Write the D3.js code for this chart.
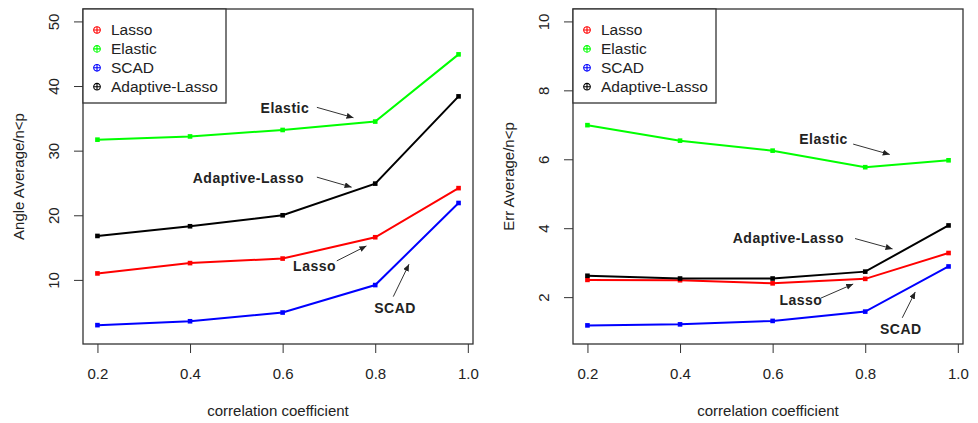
<!DOCTYPE html>
<html>
<head>
<meta charset="utf-8">
<script src="https://cdn.jsdelivr.net/npm/d3@7"></script>
<style>
  body { margin: 0; background: #fff; }
  svg { font-family: "Liberation Sans", Arial, sans-serif; }
  .tick text { font-size: 15px; fill: #222; }
  .tick line { stroke: #333; }
  .axis-title { font-size: 15px; fill: #222; }
  .legend-text { font-size: 15.5px; fill: #222; }
  .note { font-size: 14px; font-weight: bold; fill: #222; letter-spacing: 0.5px; }
</style>
</head>
<body>
<svg id="chart"></svg>
<script>
// values
const rho = [0.2, 0.4, 0.6, 0.8, 0.98]
const methods = ['Lasso', 'Elastic', 'SCAD', 'Adaptive-Lasso']
const colours = ['#ff0000', '#00ff00', '#0000ff', '#000000']

const angleLasso = [11.0, 12.6, 13.3, 16.6, 24.2]
const angleElastic = [31.7, 32.2, 33.2, 34.5, 44.9]
const angleScad = [3.0, 3.6, 4.95, 9.2, 21.9]
const angleAdaptive = [16.8, 18.3, 20.0, 24.9, 38.4]

const errLasso = [2.50, 2.49, 2.40, 2.53, 3.28]
const errElastic = [6.99, 6.54, 6.25, 5.77, 5.97]
const errScad = [1.18, 1.21, 1.31, 1.58, 2.89]
const errAdaptive = [2.62, 2.54, 2.54, 2.74, 4.08]

const xTicks = [0.2, 0.4, 0.6, 0.8, 1.0]
const angleTicks = [10, 20, 30, 40, 50]
const errTicks = [2, 4, 6, 8, 10]

// annotations: [label, text x, text y, arrow from x, y, arrow to x, y] in data units
const angleNotes = [
    ['Elastic', 0.605, 36.6, 0.674, 36.7, 0.753, 35.1],
    ['Adaptive-Lasso', 0.526, 25.8, 0.674, 25.9, 0.749, 24.35],
    ['Lasso', 0.669, 12.06, 0.717, 12.94, 0.781, 15.26],
    ['SCAD', 0.843, 5.71, 0.839, 7.41, 0.873, 12.43]
]
const errNotes = [
    ['Elastic', 0.710, 6.58, 0.774, 6.44, 0.853, 6.14],
    ['Adaptive-Lasso', 0.634, 3.70, 0.778, 3.70, 0.859, 3.40],
    ['Lasso', 0.661, 1.90, 0.704, 1.97, 0.774, 2.38],
    ['SCAD', 0.877, 1.08, 0.880, 1.40, 0.908, 2.15]
]

const width = 978
const height = 423
const plotTop = 9
const plotBottom = 344
const plotWidth = 390

let svg = d3.select('#chart')
    .attr('width', width)
    .attr('height', height)

svg.append('defs').append('marker')
    .attr('id', 'head')
    .attr('markerUnits', 'userSpaceOnUse')
    .attr('markerWidth', 8)
    .attr('markerHeight', 8)
    .attr('refX', 7)
    .attr('refY', 3)
    .attr('orient', 'auto')
    .append('path')
    .attr('d', 'M0,0 L7,3 L0,6 Z')
    .attr('fill', '#222')

// pad a range by 4% each side, like R does
function padded(lo, hi) {
    let d = (hi - lo) * 0.04
    return [lo - d, hi + d]
}

function panel(left, series, yLim, yTicks, yTitle, notes) {
    let x = d3.scaleLinear()
        .domain(padded(0.2, 0.98))
        .range([left, left + plotWidth])
    let y = d3.scaleLinear()
        .domain(padded(yLim[0], yLim[1]))
        .range([plotBottom, plotTop])

    let g = svg.append('g')

    // axes
    let yAxis = g.append('g')
        .attr('transform', `translate(${left},0)`)
        .call(d3.axisLeft(y).tickValues(yTicks).tickSize(9))
    yAxis.select('.domain').remove()
    yAxis.selectAll('.tick text')
        .attr('transform', 'rotate(-90)')
        .attr('x', 0)
        .attr('y', -24)
        .attr('dy', 0)
        .attr('text-anchor', 'middle')

    let xAxis = g.append('g')
        .attr('transform', `translate(0,${plotBottom})`)
        .call(d3.axisBottom(x).tickValues(xTicks).tickSize(9).tickFormat(d3.format('.1f')))
    xAxis.select('.domain').remove()
    xAxis.selectAll('.tick text').attr('y', 24)

    g.append('text')
        .attr('class', 'axis-title')
        .attr('transform', `translate(${left - 64},${(plotTop + plotBottom) / 2}) rotate(-90)`)
        .attr('text-anchor', 'middle')
        .attr('dy', '0.35em')
        .text(yTitle)

    g.append('text')
        .attr('class', 'axis-title')
        .attr('x', left + plotWidth / 2)
        .attr('y', 411)
        .attr('text-anchor', 'middle')
        .attr('dy', '0.35em')
        .text('correlation coefficient')

    // lines + square points
    let line = d3.line()
        .x((d, i) => x(rho[i]))
        .y(d => y(d))

    series.forEach((s, k) => {
        g.append('path')
            .attr('d', line(s))
            .attr('fill', 'none')
            .attr('stroke', colours[k])
            .attr('stroke-width', 2)
        g.selectAll(null)
            .data(s)
            .join('rect')
            .attr('x', (d, i) => x(rho[i]) - 2.3)
            .attr('y', d => y(d) - 2.3)
            .attr('width', 4.6)
            .attr('height', 4.6)
            .attr('fill', colours[k])
    })

    // box
    g.append('rect')
        .attr('x', left)
        .attr('y', plotTop)
        .attr('width', plotWidth)
        .attr('height', plotBottom - plotTop)
        .attr('fill', 'none')
        .attr('stroke', '#333')
        .attr('stroke-width', 1.3)

    // legend
    let legend = g.append('g')
        .attr('transform', `translate(${left},${plotTop})`)
    legend.append('rect')
        .attr('width', 143)
        .attr('height', 94)
        .attr('fill', '#fff')
        .attr('stroke', '#333')
        .attr('stroke-width', 1.3)
    let item = legend.selectAll('g.item')
        .data(methods)
        .join('g')
        .attr('class', 'item')
        .attr('transform', (d, i) => `translate(14,${21 + i * 18.9})`)
    item.append('circle')
        .attr('r', 3.3)
        .attr('fill', 'none')
        .attr('stroke', (d, i) => colours[i])
        .attr('stroke-width', 1.1)
    item.append('path')
        .attr('d', 'M-3.3,0 H3.3 M0,-3.3 V3.3')
        .attr('stroke', (d, i) => colours[i])
        .attr('stroke-width', 1.1)
    item.append('text')
        .attr('class', 'legend-text')
        .attr('x', 14)
        .attr('dy', '0.35em')
        .text(d => d)

    // annotations
    notes.forEach(n => {
        g.append('text')
            .attr('class', 'note')
            .attr('x', x(n[1]))
            .attr('y', y(n[2]))
            .attr('text-anchor', 'middle')
            .attr('dy', '0.35em')
            .text(n[0])
        g.append('line')
            .attr('x1', x(n[3]))
            .attr('y1', y(n[4]))
            .attr('x2', x(n[5]))
            .attr('y2', y(n[6]))
            .attr('stroke', '#333')
            .attr('stroke-width', 1)
            .attr('marker-end', 'url(#head)')
    })
}

panel(83, [angleLasso, angleElastic, angleScad, angleAdaptive], [2, 50], angleTicks, 'Angle Average/n<p', angleNotes)
panel(573, [errLasso, errElastic, errScad, errAdaptive], [1, 10], errTicks, 'Err Average/n<p', errNotes)
</script>
</body>
</html>
